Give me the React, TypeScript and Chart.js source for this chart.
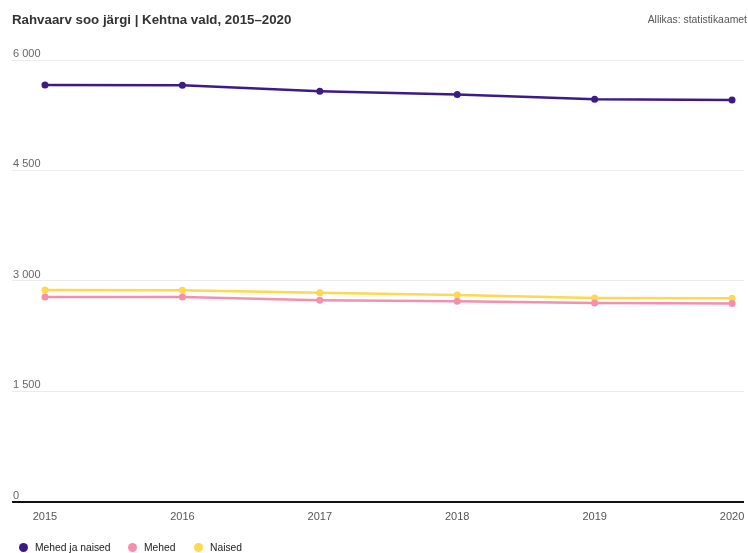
import React, { useEffect, useRef } from "react";
import { Chart, registerables } from "chart.js";

Chart.register(...registerables);

const years = [2015, 2016, 2017, 2018, 2019, 2020];
const kokku = [5661, 5657, 5576, 5532, 5468, 5457];
const mehed = [2783, 2783, 2736, 2722, 2700, 2694];
const naised = [2878, 2874, 2840, 2810, 2768, 2763];
const yTicks = [0, 1500, 3000, 4500, 6000];
const seriesNames = ["Mehed ja naised", "Mehed", "Naised"];

const PURPLE = "#3d1a8a";
const PINK = "#f490ad";
const YELLOW = "#ffd84f";
const COLORS = [PURPLE, PINK, YELLOW];

const FONT = "'Liberation Sans', Arial, Helvetica, sans-serif";

function fmt(v: number) {
  return String(v).replace(/\B(?=(\d{3})+(?!\d))/g, " ");
}

export default function App() {
  const ref = useRef<HTMLCanvasElement | null>(null);

  useEffect(() => {
    document.body.style.margin = "0";
    const ctx = ref.current!.getContext("2d")!;
    const mk = (label: string, data: number[], color: string, w: number) => ({
      label,
      data: years.map((y, i) => ({ x: y, y: data[i] })),
      borderColor: color,
      backgroundColor: color,
      borderWidth: w,
      pointRadius: 3.5,
      pointBorderWidth: 0,
      pointHoverRadius: 4,
      tension: 0,
    });
    const chart = new Chart(ctx, {
      type: "line",
      data: {
        datasets: [
          mk(seriesNames[0], kokku, PURPLE, 2.5),
          mk(seriesNames[1], mehed, PINK, 2.5),
          mk(seriesNames[2], naised, YELLOW, 2.5),
        ],
      },
      options: {
        animation: false,
        responsive: false,
        maintainAspectRatio: false,
        layout: { padding: { top: 60, left: 12, right: 0, bottom: 20 } },
        plugins: {
          legend: { display: false },
          tooltip: { enabled: false },
        },
        scales: {
          x: {
            type: "linear",
            min: 2014.76,
            max: 2020.087,
            afterBuildTicks: (s: any) => {
              s.ticks = years.map((v) => ({ value: v }));
            },
            afterFit: (s: any) => {
              s.paddingLeft = 0;
              s.paddingRight = 0;
            },
            ticks: {
              callback: (v: any) => String(v),
              color: "#555",
              font: { family: FONT, size: 11 },
              padding: 9,
              maxRotation: 0,
            },
            grid: { display: false, drawTicks: false, tickLength: 0 },
            border: { display: false },
          },
          y: {
            min: 0,
            max: 6000,
            afterBuildTicks: (s: any) => {
              s.ticks = yTicks.map((v) => ({ value: v }));
            },
            afterFit: (s: any) => {
              s.width = 0;
            },
            ticks: {
              mirror: true,
              padding: 1,
              labelOffset: -6,
              color: "#666",
              font: { family: FONT, size: 11 },
              callback: (v: any) => fmt(Number(v)),
            },
            grid: {
              drawTicks: false,
              color: (c: any) => (c.tick && c.tick.value === 0 ? "#111" : "#ececec"),
              lineWidth: (c: any) => (c.tick && c.tick.value === 0 ? 2 : 1),
            },
            border: { display: false },
          },
        },
      },
    });
    return () => chart.destroy();
  }, []);

  const legendX = [24, 133, 199];

  return (
    <div style={{ position: "relative", width: 748, height: 553, fontFamily: FONT, overflow: "hidden" }}>
      <canvas ref={ref} width={748} height={553} style={{ position: "absolute", left: 0, top: 0 }} />
      <div
        style={{
          position: "absolute",
          left: 12,
          top: 12,
          fontSize: 13.3,
          fontWeight: "bold",
          color: "#333",
          whiteSpace: "nowrap",
        }}
      >
        Rahvaarv soo järgi | Kehtna vald, 2015–2020
      </div>
      <div
        style={{
          position: "absolute",
          right: 1,
          top: 14,
          fontSize: 10.4,
          color: "#555",
          whiteSpace: "nowrap",
        }}
      >
        Allikas: statistikaamet
      </div>
      {seriesNames.map((n, i) => (
        <div
          key={n}
          style={{
            position: "absolute",
            left: legendX[i] - 5,
            top: 540,
            height: 14,
            display: "flex",
            alignItems: "center",
            whiteSpace: "nowrap",
            fontSize: 10.3,
            color: "#222",
          }}
        >
          <span
            style={{
              display: "inline-block",
              width: 9,
              height: 9,
              borderRadius: "50%",
              background: COLORS[i],
              marginRight: 7,
            }}
          />
          {n}
        </div>
      ))}
    </div>
  );
}
